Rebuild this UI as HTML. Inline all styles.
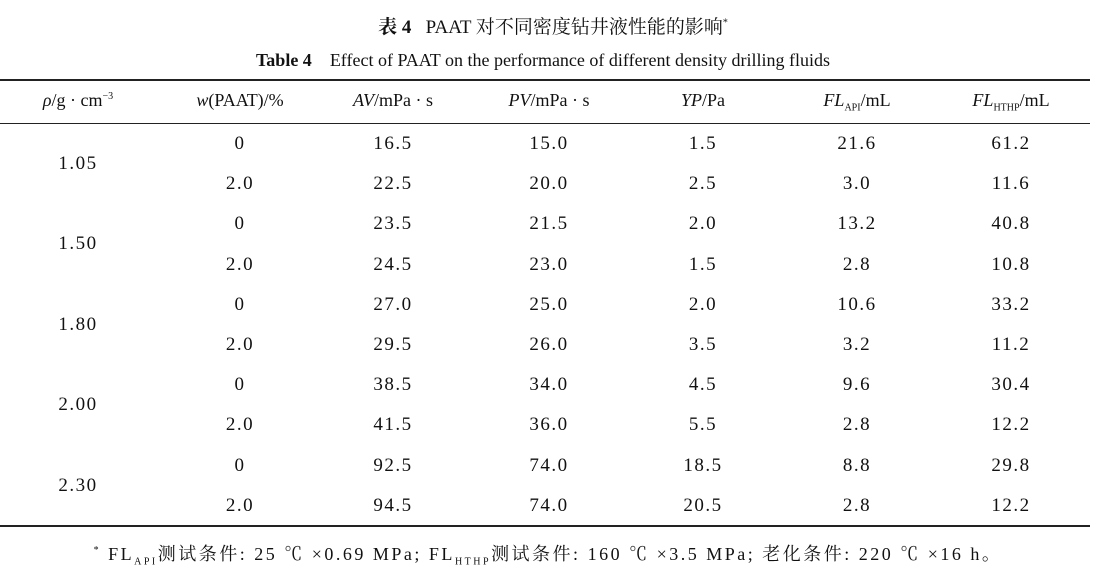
<!DOCTYPE html>
<html><head><meta charset="utf-8"><style>
body{margin:0;width:1106px;height:585px;background:#fff;position:relative;overflow:hidden;font-family:"Liberation Serif","Noto Serif CJK SC",serif;color:#111}
.t{position:absolute;white-space:nowrap;transform:translateX(-50%)}
.rule{position:absolute;left:0;width:1090px;background:#222}
.n{letter-spacing:1.5px;font-size:19px}
sub{font-size:10px;font-style:normal}
</style></head><body>
<div class="t" style="left:553px;top:12px;font-size:19px"><b>表 4</b>&nbsp;&nbsp; PAAT 对不同密度钻井液性能的影响<sup style="font-size:10px">*</sup></div>
<div class="t" style="left:543px;top:50px;font-size:18px"><b>Table 4</b>&nbsp;&nbsp;&nbsp; Effect of PAAT on the performance of different density drilling fluids</div>
<div class="rule" style="top:79px;height:2px"></div>
<div class="rule" style="top:123px;height:1px"></div>
<div class="rule" style="top:525px;height:2px"></div>
<div id="tbl"></div>
<div class="t" style="left:548px;top:540px;font-size:18px;letter-spacing:2.5px"><sup style="font-size:10px">*</sup> FL<sub>API</sub>测试条件: 25 ℃ ×0.69 MPa; FL<sub>HTHP</sub>测试条件: 160 ℃ ×3.5 MPa; 老化条件: 220 ℃ ×16 h。</div>
<script>
const headers=['<i>ρ</i>/g · cm<sup style="font-size:10px">−3</sup>','<i>w</i>(PAAT)/%','<i>AV</i>/mPa · s','<i>PV</i>/mPa · s','<i>YP</i>/Pa','<i>FL</i><sub>API</sub>/mL','<i>FL</i><sub>HTHP</sub>/mL'];
const densities=['1.05','1.50','1.80','2.00','2.30'];
const dosages=['0','2.0'];
const av=['16.5','22.5','23.5','24.5','27.0','29.5','38.5','41.5','92.5','94.5'];
const pv=['15.0','20.0','21.5','23.0','25.0','26.0','34.0','36.0','74.0','74.0'];
const yp=['1.5','2.5','2.0','1.5','2.0','3.5','4.5','5.5','18.5','20.5'];
const flapi=['21.6','3.0','13.2','2.8','10.6','3.2','9.6','2.8','8.8','2.8'];
const flhthp=['61.2','11.6','40.8','10.8','33.2','11.2','30.4','12.2','29.8','12.2'];
const cx=[78,240,393,549,703,857,1011];
const tbl=document.getElementById('tbl');
function add(html,x,y,cls,name){const d=document.createElement('div');d.className='t '+(cls||'');d.style.left=x+'px';d.style.top=y+'px';d.innerHTML=html;


tbl.appendChild(d);return d;}
headers.forEach((h,i)=>{const d=add(h,cx[i],90,'','column-header');d.style.fontSize='18px';});
const rowY=i=>133+i*40.2;
densities.forEach((v,i)=>add(v,cx[0],rowY(2*i)+20,'n','density-cell'));
for(let r=0;r<10;r++){
 add(dosages[r%2],cx[1],rowY(r),'n','dosage-cell');
 add(av[r],cx[2],rowY(r),'n','av-cell');
 add(pv[r],cx[3],rowY(r),'n','pv-cell');
 add(yp[r],cx[4],rowY(r),'n','yp-cell');
 add(flapi[r],cx[5],rowY(r),'n','fl-api-cell');
 add(flhthp[r],cx[6],rowY(r),'n','fl-hthp-cell');
}
</script>
</body></html>
